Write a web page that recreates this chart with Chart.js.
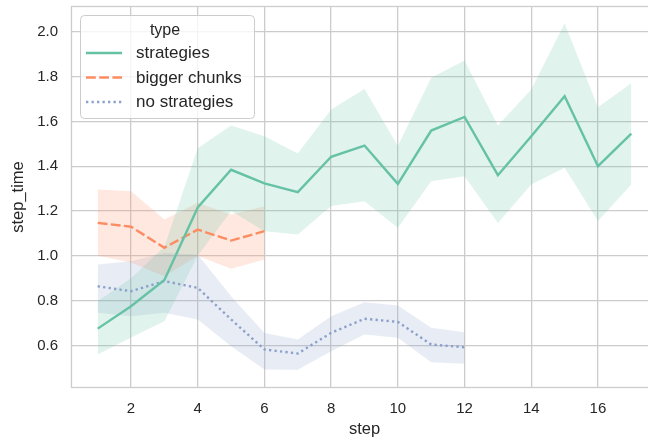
<!DOCTYPE html>
<html>
<head>
<meta charset="utf-8">
<script src="https://cdn.jsdelivr.net/npm/chart.js@4.4.1/dist/chart.umd.min.js"></script>
<style>
  html, body { margin: 0; padding: 0; background: #fff; overflow: hidden; }
  canvas { display: block; }
</style>
</head>
<body>
<canvas id="linechart" width="660" height="444"></canvas>
<script>
const steps = [1, 2, 3, 4, 5, 6, 7, 8, 9, 10, 11, 12, 13, 14, 15, 16, 17];
const xTicks = [2, 4, 6, 8, 10, 12, 14, 16];
const yTicks = [0.6, 0.8, 1.0, 1.2, 1.4, 1.6, 1.8, 2.0];

// strategies (mean and confidence band)
const strategiesMean = [0.675, 0.775, 0.892, 1.216, 1.384, 1.323, 1.284, 1.442, 1.492, 1.321, 1.559, 1.62, 1.36, 1.534, 1.712, 1.4, 1.545];
const strategiesHigh = [0.797, 0.9, 1.04, 1.48, 1.582, 1.534, 1.457, 1.653, 1.745, 1.49, 1.795, 1.872, 1.582, 1.742, 2.037, 1.663, 1.77];
const strategiesLow = [0.559, 0.635, 0.708, 1.0, 1.2, 1.11, 1.095, 1.222, 1.244, 1.125, 1.333, 1.355, 1.147, 1.318, 1.393, 1.155, 1.318];

// bigger chunks
const biggerMean = [1.147, 1.13, 1.036, 1.117, 1.068, 1.11];
const biggerHigh = [1.296, 1.288, 1.162, 1.237, 1.184, 1.221];
const biggerLow = [1.0, 0.97, 0.909, 1.0, 0.942, 0.983];

// no strategies
const noStratMean = [0.864, 0.842, 0.887, 0.857, 0.716, 0.582, 0.564, 0.656, 0.719, 0.705, 0.604, 0.592];
const noStratHigh = [0.961, 0.976, 1.013, 1.006, 0.82, 0.656, 0.626, 0.73, 0.793, 0.778, 0.679, 0.659];
const noStratLow = [0.746, 0.73, 0.746, 0.716, 0.596, 0.493, 0.492, 0.574, 0.649, 0.634, 0.525, 0.518];

const FONT = "'Liberation Sans', Arial, sans-serif";
const TEXT = "#262626";
const GRID = "#cccccc";

const pts = (arr) => arr.map((v, i) => ({ x: steps[i], y: v }));

function lineSet(label, data, color, dash) {
  return {
    label: label,
    data: pts(data),
    borderColor: color,
    borderWidth: 2.4,
    borderDash: dash,
    borderCapStyle: "butt",
    pointRadius: 0,
    fill: false,
    tension: 0,
    isMain: true,
  };
}

function bandSet(data, fillColor, fillTo) {
  return {
    label: "",
    data: pts(data),
    borderWidth: 0,
    borderColor: "rgba(0,0,0,0)",
    backgroundColor: fillColor,
    pointRadius: 0,
    fill: fillTo,
    tension: 0,
  };
}

const framePlugin = {
  id: "frame",
  beforeDatasetsDraw(chart) {
    const { ctx, chartArea: a } = chart;
    ctx.save();
    ctx.strokeStyle = GRID;
    ctx.lineWidth = 1.3;
    ctx.strokeRect(a.left + 0.5, a.top + 0.5, a.right - a.left - 1, a.bottom - a.top - 1);
    ctx.restore();
  },
};

// matplotlib-style legend box inside the axes
const boxLegend = {
  id: "boxLegend",
  afterDatasetsDraw(chart) {
    const ctx = chart.ctx;
    const main = chart.data.datasets.filter((d) => d.isMain);
    const x0 = 80, y0 = 15, w = 174, h = 103;
    ctx.save();
    ctx.beginPath();
    ctx.roundRect(x0 + 0.5, y0 + 0.5, w, h, 4);
    ctx.fillStyle = "rgba(255,255,255,0.8)";
    ctx.fill();
    ctx.strokeStyle = GRID;
    ctx.lineWidth = 1;
    ctx.stroke();

    ctx.fillStyle = TEXT;
    ctx.textBaseline = "middle";
    ctx.textAlign = "center";
    ctx.font = "16px " + FONT;
    ctx.fillText("type", 165, 30.5);

    ctx.textAlign = "left";
    ctx.font = "17px " + FONT;
    main.forEach((d, i) => {
      const y = 53 + i * 24.5;
      ctx.beginPath();
      ctx.setLineDash(d.borderDash || []);
      ctx.strokeStyle = d.borderColor;
      ctx.lineWidth = d.borderWidth;
      ctx.lineCap = "butt";
      ctx.moveTo(86, y);
      ctx.lineTo(122, y);
      ctx.stroke();
      ctx.setLineDash([]);
      ctx.fillText(d.label, 136, y + 0.5);
    });
    ctx.restore();
  },
};

const ctx = document.getElementById("linechart").getContext("2d");
const linechart = new Chart(ctx, {
  type: "line",
  data: {
    datasets: [
      lineSet("strategies", strategiesMean, "#66c2a5", []),
      lineSet("bigger chunks", biggerMean, "#fc8d62", [9.8, 3.4]),
      lineSet("no strategies", noStratMean, "#8da0cb", [2.3, 3.2]),
      bandSet(strategiesHigh, "rgba(102,194,165,0.2)", false),
      bandSet(strategiesLow, "rgba(102,194,165,0.2)", "-1"),
      bandSet(biggerHigh, "rgba(252,141,98,0.2)", false),
      bandSet(biggerLow, "rgba(252,141,98,0.2)", "-1"),
      bandSet(noStratHigh, "rgba(141,160,203,0.2)", false),
      bandSet(noStratLow, "rgba(141,160,203,0.2)", "-1"),
    ],
  },
  options: {
    responsive: false,
    animation: false,
    devicePixelRatio: 1,
    layout: { padding: { top: 6, right: 2, left: 0, bottom: 0 } },
    plugins: {
      legend: { display: false },
      tooltip: { enabled: false },
    },
    scales: {
      x: {
        type: "linear",
        min: 0.2,
        max: 17.8,
        afterBuildTicks: (scale) => {
          scale.ticks = xTicks.map((v) => ({ value: v }));
        },
        afterFit: (scale) => {
          scale.height = 56;
          scale.paddingLeft = 0;
          scale.paddingRight = 0;
        },
        grid: { color: GRID, lineWidth: 1.3, drawTicks: false },
        border: { display: false },
        ticks: {
          padding: 12,
          color: TEXT,
          font: { family: FONT, size: 15 },
          maxRotation: 0,
          callback: (v) => String(v),
        },
        title: {
          display: true,
          text: "step",
          color: TEXT,
          font: { family: FONT, size: 16.5 },
          padding: { top: 0, bottom: 5 },
        },
      },
      y: {
        type: "linear",
        min: 0.41,
        max: 2.115,
        afterBuildTicks: (scale) => {
          scale.ticks = yTicks.map((v) => ({ value: v }));
        },
        afterFit: (scale) => {
          scale.width = 71;
          scale.paddingTop = 0;
          scale.paddingBottom = 0;
        },
        grid: { color: GRID, lineWidth: 1.3, drawTicks: false },
        border: { display: false },
        ticks: {
          padding: 13,
          color: TEXT,
          font: { family: FONT, size: 15 },
          callback: (v) => Number(v).toFixed(1),
        },
        title: {
          display: true,
          text: "step_time",
          color: TEXT,
          font: { family: FONT, size: 16.5 },
          padding: { top: 9, bottom: 0 },
        },
      },
    },
  },
  plugins: [framePlugin, boxLegend],
});
</script>
</body>
</html>
